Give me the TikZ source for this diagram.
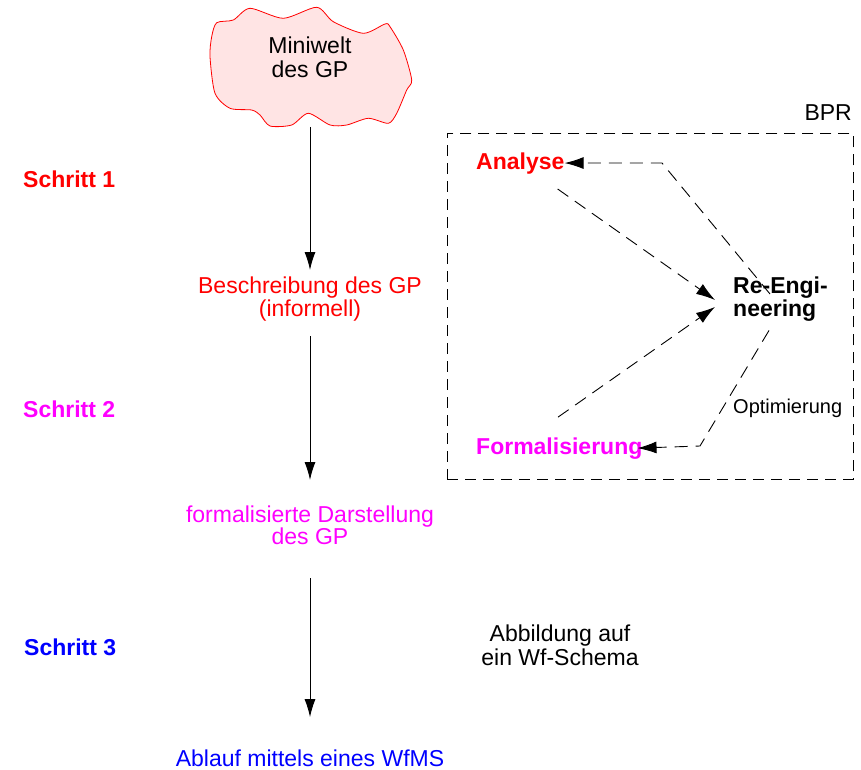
\documentclass[tikz,border=0pt]{standalone}
\usepackage{fontspec}
\setmainfont{Liberation Sans}
\usetikzlibrary{arrows.meta,calc}
\definecolor{cloudfill}{RGB}{255,228,228}
\definecolor{rd}{RGB}{255,0,0}
\definecolor{mag}{RGB}{255,0,255}
\definecolor{blu}{RGB}{0,0,255}
\begin{document}
\begin{tikzpicture}[x=1pt,y=-1pt,
  txt/.style={inner sep=0pt, font=\fontsize{23}{23}\selectfont},
  btxt/.style={inner sep=0pt, font=\fontsize{23}{23}\selectfont\bfseries},
  solidarr/.style={line width=1pt, -{Latex[length=18pt,width=11pt]}},
  dasharr/.style={line width=0.9pt, dash pattern=on 13pt off 8pt, -{Latex[length=19pt,width=12pt]}},
]
\useasboundingbox (0,0) rectangle (861,770);
% cloud
\draw[rd, fill=cloudfill, line width=0.8pt] plot[smooth cycle, tension=0.45] coordinates {
 (216.7,22.7) (233.3,20) (250,8.3) (283.3,18.3) (316.7,7.3) (333.3,21.7)
 (363.3,33.3) (385,24) (390,26.7) (403.3,50) (411.7,80) (406.7,90)
 (396.7,113.3) (388.3,123.3) (368.3,118.3) (346.7,125) (330,125) (308.3,113.3)
 (291.7,125) (270,126) (260,115) (251.7,110) (230,108.3) (215,93.3)
 (210,56.7) (211.7,36.7)};
\node[txt, align=center, font=\fontsize{23}{24}\selectfont, anchor=north] (mini) at (310,36.5) {Miniwelt\\des GP};
\coordinate (cloudbot) at (310,127);

% left column
\node[txt, rd, align=center, anchor=north] (besch) at (310,276.5) {Beschreibung des GP\\(informell)};
\node[txt, mag, align=center, font=\fontsize{23}{21}\selectfont, anchor=north] (fdar) at (310,505.5) {formalisierte Darstellung\\des GP};
\node[txt, blu, anchor=base] (ablauf) at (310,766) {Ablauf mittels eines WfMS};

\node[btxt, rd, anchor=base west] (s1) at (23,187) {Schritt 1};
\node[btxt, mag, anchor=base west] (s2) at (23,417) {Schritt 2};
\node[btxt, blu, anchor=base west] (s3) at (24,655) {Schritt 3};

\node[txt, align=center, font=\fontsize{23}{24}\selectfont, anchor=north] (abb) at (560,624.5) {Abbildung auf\\ein Wf-Schema};

\draw[solidarr] (cloudbot) -- ([yshift=6.5pt]besch.north -| cloudbot);
\draw[solidarr] ([yshift=-15pt]besch.south -| cloudbot) -- ([yshift=25.5pt]fdar.north -| cloudbot);
\draw[solidarr] ([yshift=-33pt]fdar.south -| cloudbot) -- ([yshift=32pt]ablauf.north -| cloudbot);

% BPR box
\node[draw, line width=0.9pt, dash pattern=on 11pt off 7pt, minimum width=406pt, minimum height=346pt, inner sep=0pt, anchor=north west] (bprbox) at (447,133) {};
\node[txt, anchor=base east] (bpr) at (852,121) {BPR};

\node[btxt, rd, anchor=base west] (analyse) at (476,169) {Analyse};
\node[btxt, mag, anchor=base west] (formal) at (476,454) {Formalisierung};
\node[btxt, align=left, anchor=north west] (reng) at (733,276.5) {Re-Engi-\\neering};
\node[inner sep=0pt, font=\fontsize{20}{20}\selectfont, anchor=base west] (opt) at (733,413) {Optimierung};

\coordinate (bendA) at (662,163);
\coordinate (bendF) at (700,446);

\draw[dasharr] ([xshift=37pt,yshift=-17.5pt]reng.north west) -- (bendA) -- (analyse.east);
\draw[dasharr] ([xshift=-7pt,yshift=-15pt]analyse.south east) -- ([xshift=-18pt,yshift=-1pt]reng.west);
\draw[dasharr] ([xshift=82pt,yshift=20pt]formal.north west) -- ([xshift=-18pt,yshift=-8pt]reng.west);
\draw[dasharr] ([xshift=36pt,yshift=-9pt]reng.south west) -- (bendF) -- ([xshift=-5pt]formal.east);
\end{tikzpicture}
\end{document}
